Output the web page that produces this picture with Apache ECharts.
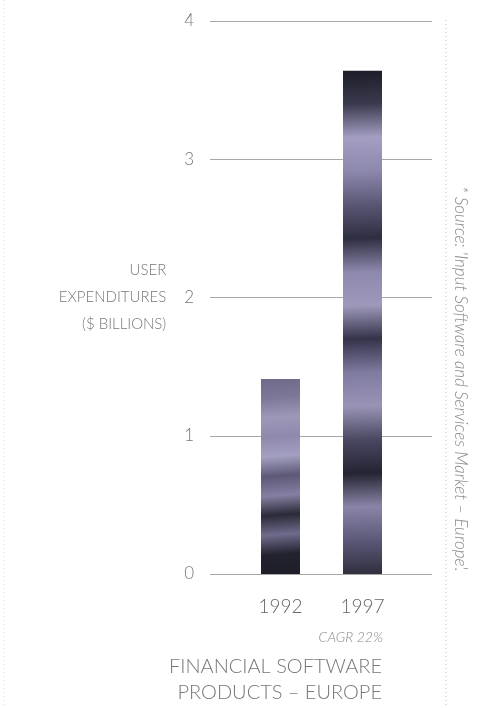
<!DOCTYPE html>
<html><head><meta charset="utf-8">
<script src="https://cdn.jsdelivr.net/npm/echarts@6/dist/echarts.min.js"></script>
<style>html,body{margin:0;padding:0;background:#fff}#c{width:490px;height:708px}</style>
</head><body><div id="c"></div>
<script>
const categories = ['1992', '1997'];
const values = [1.41, 3.64];
const yTicks = [0, 1, 2, 3, 4];
const yTitle = 'USER\nEXPENDITURES\n($ BILLIONS)';
const subNote = 'CAGR 22%';
const footTitle = 'FINANCIAL SOFTWARE\nPRODUCTS – EUROPE';
const sourceNote = "* Source: 'Input Software and Services Market – Europe'.";

const FONT = 'Lato, "Open Sans", sans-serif';
const chart = echarts.init(document.getElementById('c'));
function fill(stops) {
  return new echarts.graphic.LinearGradient(0, 0, 0.35, 1, stops.map((c, i) => ({offset: i / (stops.length - 1), color: c})));
}
const fill1992 = fill(['#6e6a88', '#7d7898', '#9d98b8', '#8f8aac', '#a39fc0', '#5c5876', '#8580a3', '#2a2a38', '#6f6b8c', '#232330', '#1e1e2a']);
const fill1997 = fill(['#1c1d28', '#3a3a4e', '#a39ec2', '#8d88ad', '#5a5775', '#2e2e40', '#8d88ad', '#9e99bb', '#34334a', '#7f7aa0', '#9994b6', '#4a4862', '#242432', '#8a85a8', '#5b5878', '#30303f']);
chart.setOption({
  animation: false,
  grid: [
    {left: 210, right: 58, top: 21, bottom: 134},
    {left: 239.5, right: 86.5, top: 21, bottom: 134}
  ],
  xAxis: [
    {gridIndex: 0, type: 'value', min: 0, max: 1, show: false},
    {gridIndex: 1, type: 'category', data: categories,
     axisLine: {show: false}, axisTick: {show: false},
     axisLabel: {color: '#666', fontSize: 19, fontFamily: FONT, fontWeight: 300, margin: 23}}
  ],
  yAxis: [
    {gridIndex: 0, type: 'value', min: yTicks[0], max: yTicks[yTicks.length - 1], interval: 1,
     axisLine: {show: false}, axisTick: {show: false},
     axisLabel: {color: '#777', fontSize: 17, fontFamily: FONT, fontWeight: 300, margin: 16},
     splitLine: {lineStyle: {color: '#a8a8a8', width: 1}},
     name: yTitle, nameLocation: 'middle', nameRotate: 0, nameGap: 0,
     nameTextStyle: {color: '#777', fontSize: 15, fontFamily: FONT, fontWeight: 300, align: 'right',
       lineHeight: 27, padding: [0, 13, 0, 0]}},
    {gridIndex: 1, type: 'value', min: 0, max: 4, interval: 1, show: false}
  ],
  series: [{
    type: 'bar', xAxisIndex: 1, yAxisIndex: 1, barWidth: 39,
    data: values.map((v, i) => ({value: v, itemStyle: {color: i === 0 ? fill1992 : fill1997}}))
  }],
  graphic: [
    {type: 'text', right: 107, top: 630, style: {text: subNote, fill: '#888', font: 'italic 300 14px ' + FONT, textAlign: 'right'}},
    {type: 'text', right: 108, top: 654, style: {text: footTitle, fill: '#777', font: '300 20px ' + FONT, lineHeight: 26, textAlign: 'right'}},
    {type: 'line', shape: {x1: 446, y1: 20, x2: 446, y2: 708}, style: {stroke: '#bbb', lineWidth: 1, lineDash: [1, 3]}},
    {type: 'line', shape: {x1: 4, y1: 0, x2: 4, y2: 708}, style: {stroke: '#ddd', lineWidth: 1, lineDash: [1, 3]}},
    {type: 'text', x: 460, y: 186, rotation: -Math.PI / 2,
     style: {text: sourceNote, fill: '#888', font: 'italic 300 17px ' + FONT, textAlign: 'left', textVerticalAlign: 'middle'}}
  ]
});
</script></body></html>
